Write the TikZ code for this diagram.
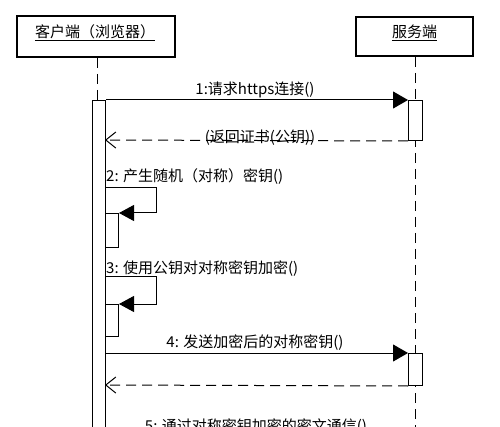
\documentclass[tikz,border=0pt]{standalone}
\usepackage{fontspec}
\setmainfont{Noto Sans CJK SC}
\usetikzlibrary{arrows.meta}
\begin{document}
\begin{tikzpicture}[x=1pt,y=-1pt,
  hdr/.style={draw, line width=2pt, inner sep=0pt},
  hdrtext/.style={inner sep=0pt, font=\fontsize{15}{17}\selectfont},
  uline/.style={line width=1pt},
  lbl/.style={inner sep=0pt, font=\fontsize{15}{17}\selectfont},
  life/.style={line width=1pt, dash pattern=on 10pt off 6pt},
  act/.style={draw, fill=white, line width=1pt, inner sep=0pt, anchor=north west},
  msg/.style={line width=1pt, -{Triangle[length=15pt,width=17pt]}},
  selfmsg/.style={line width=1pt, -{Triangle[length=15pt,width=16pt]}},
  ret/.style={line width=1pt, dash pattern=on 10pt off 6pt, -{Straight Barb[length=10pt,width=16pt]}},
]
\clip (0,0) rectangle (500,427);
\fill[white] (0,0) rectangle (500,427);

% headers
\node[hdr, minimum width=158pt, minimum height=41pt] (client) at (96,36.5) {};
\node[hdrtext, anchor=base] (clientt) at (95,38) {客户端（浏览器）};
\draw[uline] ([yshift=-3pt]clientt.base west) -- ([yshift=-3pt]clientt.base east);
\node[hdr, minimum width=117pt, minimum height=39pt] (server) at (414.5,36.5) {};
\node[hdrtext, anchor=base] (servert) at (414.5,38) {服务端};
\draw[uline] ([yshift=-3pt]servert.base west) -- ([yshift=-3pt]servert.base east);

% lifelines
\coordinate (cl) at (97,100);
\coordinate (sl) at (415,440);
\draw[life] (client.south -| cl) -- (cl);
\draw[life] (server.south -| sl) -- (sl);

% activations
\node[act, minimum width=13pt, minimum height=340pt] (cact) at (92,100) {};
\node[act, minimum width=14pt, minimum height=40pt] (sact1) at (408,100) {};
\node[act, minimum width=14pt, minimum height=32pt] (sact2) at (408,353) {};
\node[act, minimum width=13pt, minimum height=34pt] (nact1) at (105,213) {};
\node[act, minimum width=13pt, minimum height=32pt] (nact2) at (105,304) {};

% message 1
\draw[msg] (cact.north east) -- (sact1.north west);
\node[lbl, anchor=base] (m1) at (255,95) {1:请求https连接()};
% return 1
\coordinate (r1) at (105,140);
\draw[ret] (sact1.south west) -- (r1);
\node[lbl] (m1r) at (260,138) {(返回证书(公钥))};

% self call 2
\node[lbl, anchor=base west] (m2) at (106,182) {2: 产生随机（对称）密钥()};
\coordinate (s2a) at (105,188);
\coordinate (s2b) at (156,188);
\coordinate (s2c) at (156,213);
\draw[selfmsg] (s2a) -- (s2b) -- (s2c) -- (nact1.north east);

% self call 3
\node[lbl, anchor=base west] (m3) at (106,274) {3: 使用公钥对对称密钥加密()};
\coordinate (s3a) at (105,277);
\coordinate (s3b) at (156,277);
\coordinate (s3c) at (156,304);
\draw[selfmsg] (s3a) -- (s3b) -- (s3c) -- (nact2.north east);

% message 4
\coordinate (m4s) at (105,353);
\draw[msg] (m4s) -- (sact2.north west);
\node[lbl, anchor=base] (m4) at (255,347) {4: 发送加密后的对称密钥()};
\coordinate (r4) at (105,385);
\draw[ret] (sact2.south west) -- (r4);

% message 5 (cut off at the lower edge, as in the reference)
\node[lbl, anchor=base] (m5) at (256,431) {5: 通过对称密钥加密的密文通信()};
\end{tikzpicture}
\end{document}
